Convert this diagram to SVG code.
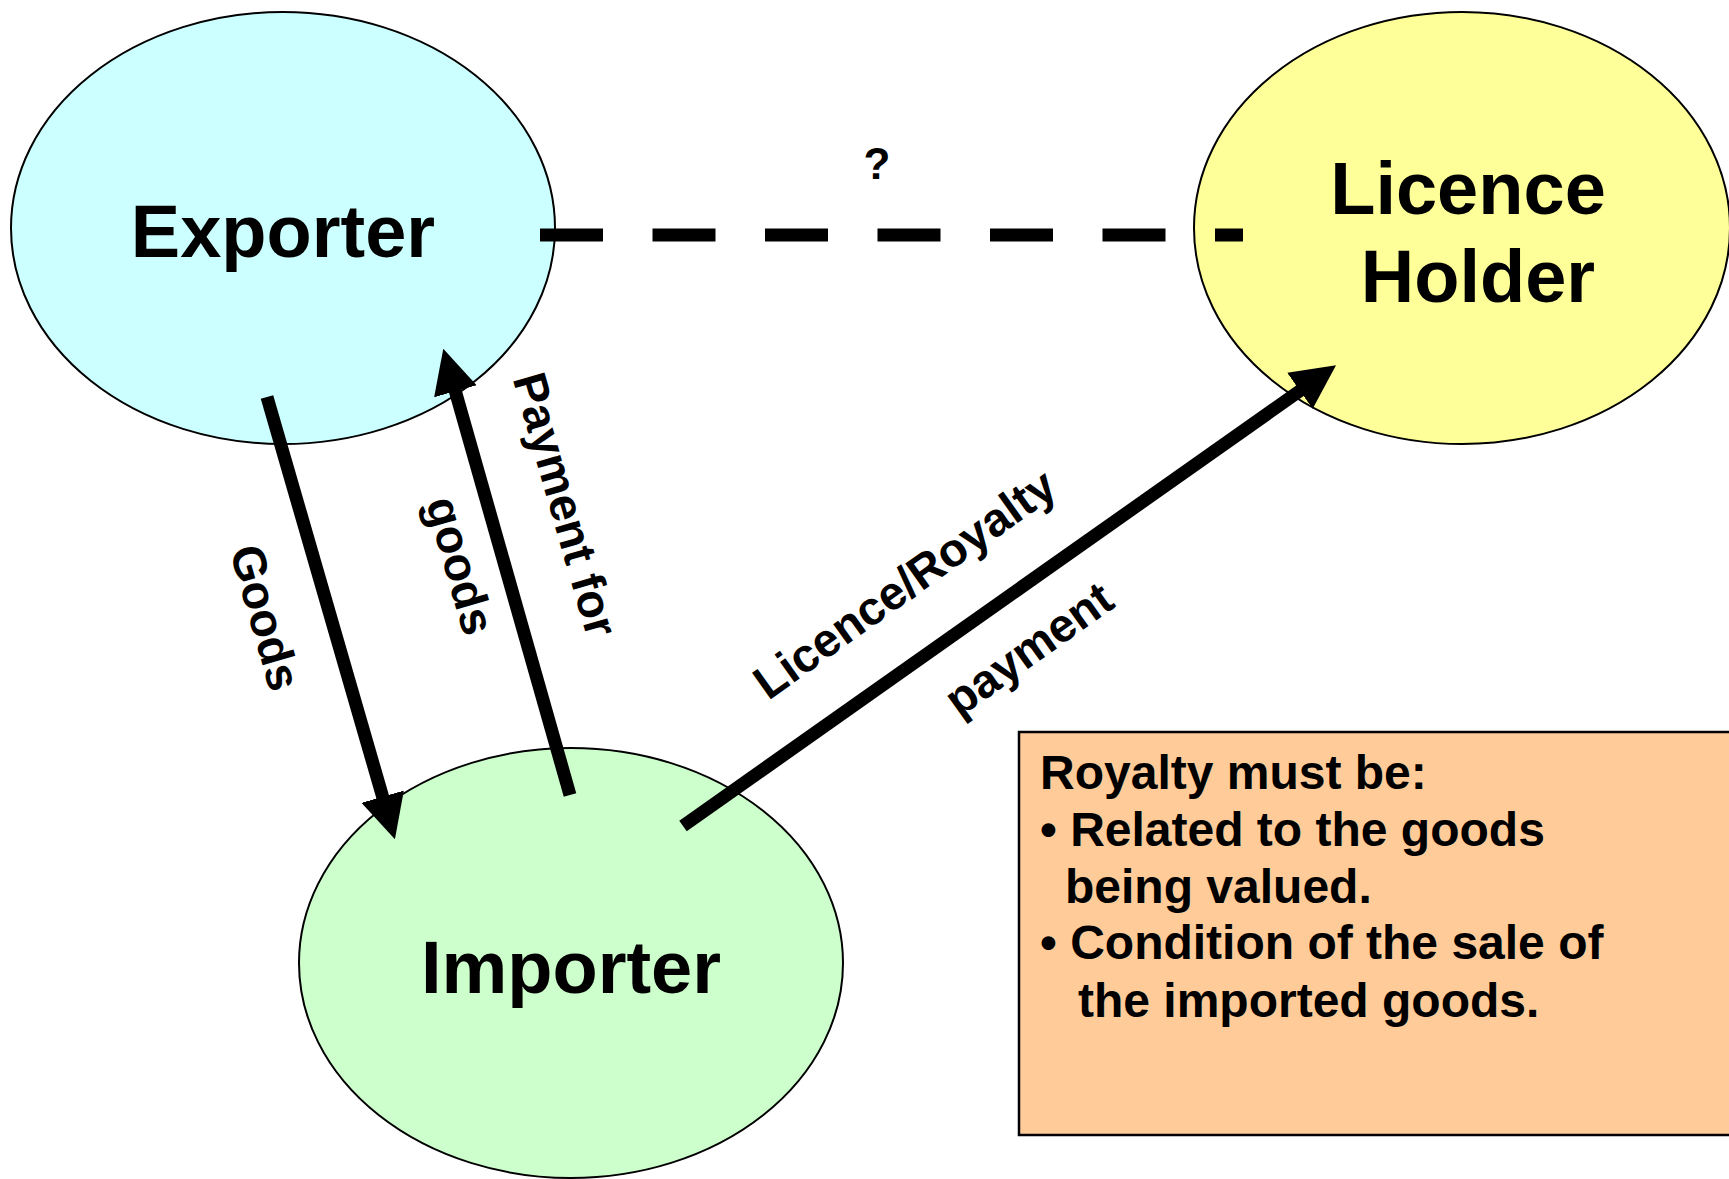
<svg xmlns="http://www.w3.org/2000/svg" width="1729" height="1179" viewBox="0 0 1729 1179">
<style>
.node{stroke:#000;stroke-width:2}
.big{font-family:"Liberation Sans",Arial,sans-serif;font-weight:bold;font-size:74px;fill:#000;text-anchor:middle}
.lbl{font-family:"Liberation Sans",Arial,sans-serif;font-weight:bold;font-size:47px;fill:#000}
.mid{text-anchor:middle}
.box{font-family:"Liberation Sans",Arial,sans-serif;font-weight:bold;font-size:48px;fill:#000}
.arrow{stroke:#000;stroke-width:13;fill:none;marker-end:url(#head)}
</style>
<defs>
<marker id="head" viewBox="0 0 10 10" refX="0.3" refY="5" markerWidth="3.4" markerHeight="3.5" orient="auto" markerUnits="strokeWidth">
<path d="M0,0 L10,5 L0,10 z" fill="#000"/>
</marker>
</defs>
<rect width="1729" height="1179" fill="#fff"/>
<g id="exporter">
<ellipse class="node" cx="283" cy="228" rx="272" ry="216" fill="#CCFFFF"/>
<text class="big" x="283" y="257">Exporter</text>
</g>
<g id="licence-holder">
<ellipse class="node" cx="1462" cy="228" rx="268" ry="216" fill="#FFFF99"/>
<text class="big" x="1468" y="214">Licence</text>
<text class="big" x="1478" y="302">Holder</text>
</g>
<g id="importer">
<ellipse class="node" cx="571" cy="963" rx="272" ry="215" fill="#CCFFCC"/>
<text class="big" x="571" y="993">Importer</text>
</g>
<g id="note">
<rect x="1019" y="732" width="720" height="403" fill="#FFCC99" stroke="#000" stroke-width="2.5"/>
<text class="box" x="1040" y="789">Royalty must be:</text>
<text class="box" x="1040" y="846">• Related to the goods</text>
<text class="box" x="1065" y="903">being valued.</text>
<text class="box" x="1040" y="959">• Condition of the sale of</text>
<text class="box" x="1078" y="1017">the imported goods.</text>
</g>
<g id="connectors">
<line x1="540" y1="235" x2="1243" y2="235" stroke="#000" stroke-width="13" stroke-dasharray="63 49.5"/>
<line class="arrow" x1="267" y1="397" x2="383" y2="798"/>
<line class="arrow" x1="570" y1="795" x2="455" y2="390"/>
<line class="arrow" x1="683" y1="826" x2="1301" y2="390"/>
</g>
<g id="labels">
<text class="lbl mid" x="877" y="179" style="font-size:44px">?</text>
<text class="lbl mid" transform="translate(250,622) rotate(74)">Goods</text>
<text class="lbl mid" transform="translate(550,509) rotate(74)">Payment for</text>
<text class="lbl mid" transform="translate(445,570) rotate(74)">goods</text>
<text class="lbl mid" transform="translate(914,597) rotate(-35.5)">Licence/Royalty</text>
<text class="lbl mid" transform="translate(1038,662) rotate(-35.5)">payment</text>
</g>
</svg>
